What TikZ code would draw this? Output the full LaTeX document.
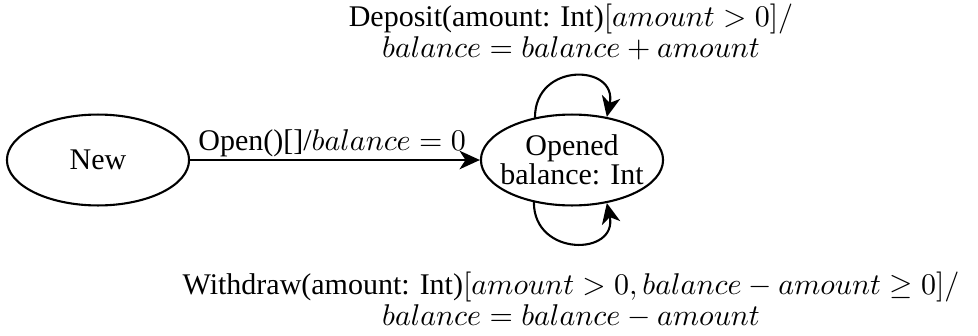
\documentclass[tikz,border=0pt]{standalone}
\usepackage{fontspec}
\setmainfont{Liberation Serif}
\usetikzlibrary{shapes.geometric,arrows.meta}

\begin{document}
\begin{tikzpicture}
% state diagram of an account, sizes given in pixels of the sketch
\def\pxsz{0.3333pt}
\providecommand{\umlLineWidth}{0.7pt}
\providecommand{\umlStateWidth}{60.7pt}
\providecommand{\umlStateHeight}{30.3pt}
\begin{scope}[x=\pxsz, y=\pxsz, line cap=round, line join=round,
  state/.style={ellipse, draw, line width=\umlLineWidth, minimum width=\umlStateWidth,
    minimum height=\umlStateHeight, inner xsep=-3pt, inner ysep=0pt, align=center,
    font=\fontsize{10pt}{9.7pt}\selectfont},
  trans/.style={line width=\umlLineWidth, -{Stealth[length=6.8pt,width=6.2pt,inset=2pt]}},
  guard/.style={inner sep=0pt, align=center, font=\fontsize{10pt}{8.9pt}\selectfont}]
  % Canvas
  \useasboundingbox (0,0) rectangle (978,335);
  % States
  \node[state] (new) at (98,175) {New};
  \node[state] (opened) at (572,175) {Opened\\balance: Int};
  % Open transition
  \draw[trans] (new) -- node[above, inner sep=0.6pt, pos=0.49] (openLbl) {Open()[]/$balance = 0$} (opened);
  % Deposit loop
  \draw[trans] (opened.131) .. controls +(90:56) and +(78:54) .. (opened.51);
  \node[guard] (depositLbl) at (571,303)
    {Deposit(amount: Int)$[amount > 0]/$\\$balance = balance + amount$};
  % Withdraw loop
  \draw[trans] (opened.228) .. controls +(-90:55) and +(-78:54) .. (opened.309);
  \node[guard] (withdrawLbl) at (571,35)
    {Withdraw(amount: Int)$[amount > 0, balance - amount \geq 0]/$\\$balance = balance - amount$};
\end{scope}
\end{tikzpicture}
\end{document}
